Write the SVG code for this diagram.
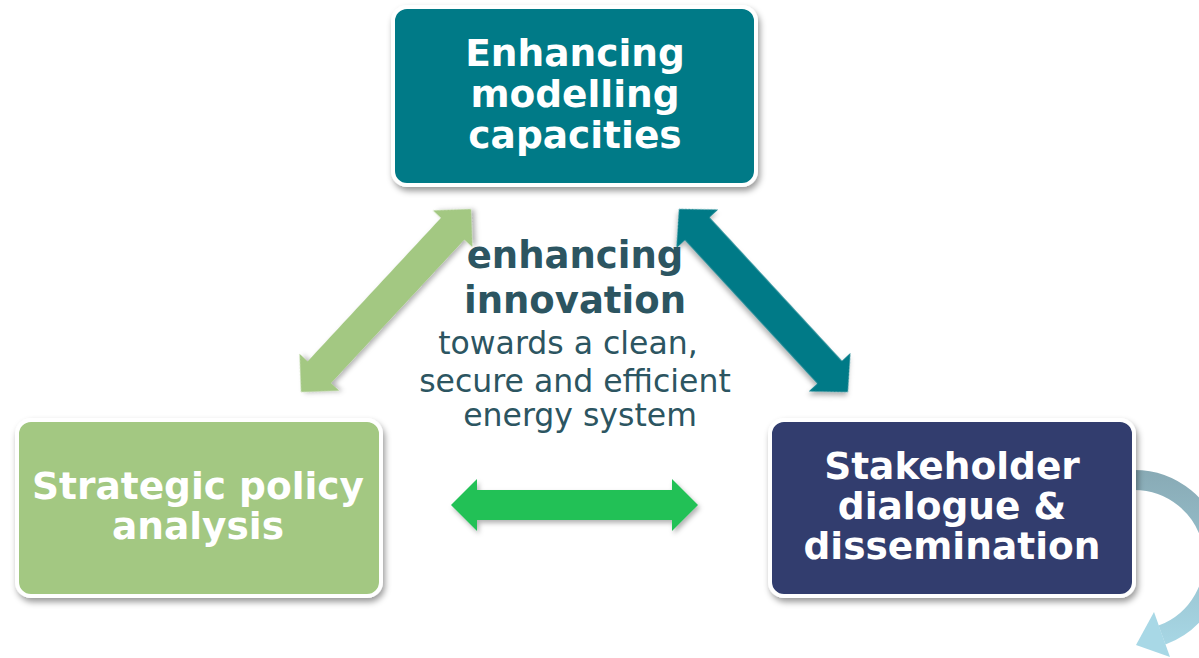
<svg xmlns="http://www.w3.org/2000/svg" width="1199" height="658" viewBox="0 0 1199 658">
<style>
.box{stroke:#fff;stroke-width:4;filter:url(#sh)}
.bt{font-family:"DejaVu Sans","Liberation Sans",sans-serif;font-weight:bold;font-size:37.5px;fill:#fff;text-anchor:middle}
.ct{font-family:"DejaVu Sans","Liberation Sans",sans-serif;fill:#2C5561;text-anchor:middle}
.cb{font-weight:bold;font-size:37px}
.cr{font-size:31.5px}
.arr{filter:url(#ash)}
</style>
<defs>
<filter id="sh" x="-10%" y="-10%" width="125%" height="130%">
<feDropShadow dx="2" dy="4" stdDeviation="3" flood-color="#000" flood-opacity="0.4"/>
</filter>
<filter id="ash" x="-10%" y="-10%" width="125%" height="130%">
<feDropShadow dx="2" dy="3" stdDeviation="2.5" flood-color="#000" flood-opacity="0.3"/>
</filter>
<polygon id="dbl" points="0,0 27,-27 27,-16 223,-16 223,-27 250,0 223,27 223,16 27,16 27,27"/>
<linearGradient id="cg" gradientUnits="userSpaceOnUse" x1="0" y1="470" x2="0" y2="650">
<stop offset="0" stop-color="#88AAB5"/>
<stop offset="1" stop-color="#A8D8E6"/>
</linearGradient>
</defs>
<rect width="1199" height="658" fill="#fff"/>
<g id="connectors">
<use href="#dbl" fill="#A3C882" class="arr" transform="translate(301,392) rotate(-47.1) scale(0.999,1)"/>
<use href="#dbl" fill="#007A87" class="arr" transform="translate(679,209) rotate(47.3) scale(0.996,1.05)"/>
<polygon class="arr" fill="#22C156" points="451,505 477,479 477,490 672,490 672,479 698,505 672,531 672,520 477,520 477,531"/>
<g id="cycle">
<path d="M1133,480 A80,80 0 0 1 1162,635" fill="none" stroke="url(#cg)" stroke-width="20"/>
<polygon fill="#A8D8E6" points="1136,645 1154,612 1170,657"/>
</g>
</g>
<g id="node-modelling">
<rect class="box" x="393" y="7" width="363" height="178" rx="14" fill="#007A87"/>
<text class="bt" x="575" y="66">Enhancing</text>
<text class="bt" x="575" y="107">modelling</text>
<text class="bt" x="575" y="148">capacities</text>
</g>
<g id="node-policy">
<rect class="box" x="17" y="420" width="364" height="176" rx="14" fill="#A3C882"/>
<text class="bt" x="198" y="499">Strategic policy</text>
<text class="bt" x="198" y="539">analysis</text>
</g>
<g id="node-stakeholder">
<rect class="box" x="770" y="420" width="364" height="176" rx="14" fill="#303E6E"/>
<text class="bt" x="952" y="479">Stakeholder</text>
<text class="bt" x="952" y="519">dialogue &amp;</text>
<text class="bt" x="952" y="559">dissemination</text>
</g>
<g id="center-text">
<text class="ct cb" x="575" y="268">enhancing</text>
<text class="ct cb" x="575" y="313">innovation</text>
<text class="ct cr" x="568" y="354">towards a clean,</text>
<text class="ct cr" x="575" y="392">secure and efficient</text>
<text class="ct cr" x="580" y="426">energy system</text>
</g>
</svg>
